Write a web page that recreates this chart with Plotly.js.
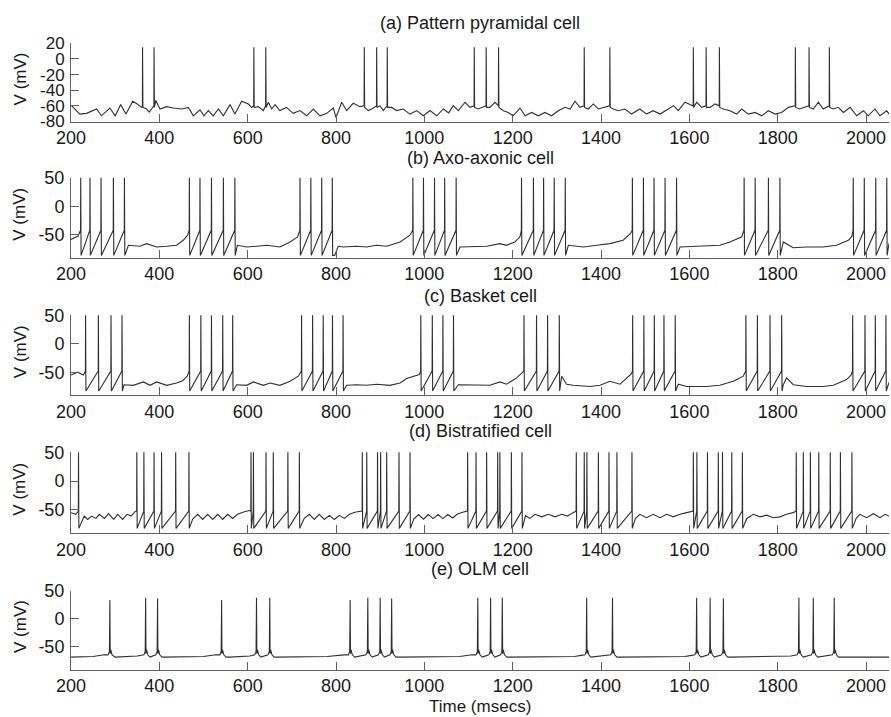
<!DOCTYPE html>
<html><head><meta charset="utf-8">
<script src="https://cdn.plot.ly/plotly-3.0.1.min.js"></script>
<style>html,body{margin:0;padding:0;background:#fff}#chart{width:891px;height:717px}</style>
</head><body><div id="chart"></div>
<script>
// ---------------- DATA ----------------
const xTicks = [200, 400, 600, 800, 1000, 1200, 1400, 1600, 1800, 2000];
const panelTitles = ["(a) Pattern pyramidal cell", "(b) Axo-axonic cell", "(c) Basket cell", "(d) Bistratified cell", "(e) OLM cell"];
const yTitle = "V (mV)";
const xTitle = "Time (msecs)";
const yTicksA = [-80, -60, -40, -20, 0, 20];
const yTicksB = [-50, 0, 50];

// (a) pyramidal
const pyrSpikes = [362, 388, 614, 641, 864, 892, 916, 1113, 1140, 1168, 1362, 1420, 1609, 1638, 1668, 1840, 1871, 1917];
const pyrWaveDt = [-0.4, 0, 0.8];
const pyrWaveV = [-60, 15, -62];
const pyrBaseT = [201.5, 220, 235, 258, 269, 288, 300, 312.5, 324.5, 339.6, 350, 360, 371, 377, 392, 401.5, 416.6, 431.7, 450.6, 465.7, 477, 492, 501, 511, 522, 533.6, 545, 560, 571, 586.4, 601.5, 609, 624, 635.5, 646.8, 654.5, 662, 673, 688, 703, 718.5, 733.6, 748.7, 763.8, 779, 794, 800, 812.8, 824, 839, 854, 873, 880.8, 899.6, 907, 926, 937, 952, 967.5, 982.6, 997.7, 1012.8, 1028, 1043, 1055, 1065.6, 1077, 1092, 1103, 1122, 1130, 1148.6, 1160, 1179, 1190, 1201, 1216.5, 1228, 1243, 1258, 1273, 1288, 1303.3, 1318.4, 1330, 1341, 1352.4, 1371, 1382.6, 1394, 1405, 1428, 1439, 1454, 1469, 1488, 1503, 1518, 1533.5, 1548.6, 1564, 1575, 1590, 1601.4, 1616.5, 1628, 1647, 1658, 1677, 1692, 1707, 1718.5, 1733.5, 1748.6, 1764, 1779, 1794, 1809, 1824, 1850, 1862, 1880.7, 1892, 1903, 1926, 1937, 1949, 1964, 1979, 1994, 2005, 2020, 2031.6, 2046.7, 2052];
const pyrBaseV = [-60, -70.5, -69.6, -64, -72.7, -62.8, -72.7, -58.4, -70.5, -54, -57.6, -62, -64, -68, -53, -64, -61, -62.8, -64, -62, -72.7, -65, -72.7, -66, -72.7, -64, -72.7, -58.4, -70.5, -54, -57.6, -62, -61, -66, -55.4, -64, -58.4, -66, -62, -69.6, -66, -72.7, -64, -72.7, -69.6, -62.8, -75, -55.4, -66, -56.7, -61, -66, -64, -59.7, -66, -62, -66, -64, -70.5, -66, -72.7, -66, -72.7, -64, -69, -59.7, -66.2, -55.4, -61.9, -64, -61.9, -61.9, -55.4, -66.2, -68.4, -72.7, -62.8, -72.7, -68.4, -72.7, -68.4, -72.7, -66.2, -61.9, -64, -54, -61.9, -64, -57.6, -64, -61.9, -64, -66.2, -64, -70.5, -64, -70.5, -66.2, -70.5, -65.3, -59.7, -66.2, -55.4, -58.4, -55.4, -61.9, -61.9, -57.6, -64, -66.2, -70.5, -64, -70.5, -68.4, -72.7, -66.2, -70.5, -68.4, -61.9, -64, -61.9, -64, -55.4, -64, -64, -61.9, -68.4, -61.9, -72.7, -66.2, -72.7, -64, -72.7, -66.2, -70.5];

// (b) axo-axonic
const axoSpikes = [222, 243, 268, 296, 321, 468, 492, 518, 545, 571, 718.5, 743, 767.6, 791.6, 974, 998, 1023, 1046, 1072, 1220, 1247, 1270, 1294, 1319, 1471, 1496, 1520, 1545, 1571, 1724, 1749, 1779, 1805, 1971, 1996, 2022, 2047];
const axoWaveDt = [-0.4, 0, 0.8];
const axoWaveV = [-42, 56, -86];
const axoBaseT = [200, 216, 330, 356, 371, 394, 416.6, 439, 454, 464, 576.6, 597.7, 620, 643, 673, 696, 713, 797, 805, 816.6, 846.8, 869, 892, 914.7, 945, 967.5, 1080.7, 1111, 1141, 1171, 1186, 1205, 1216.5, 1326, 1360, 1390, 1420, 1450, 1467, 1579, 1609, 1639, 1669, 1692, 1718.5, 1812.7, 1824, 1835, 1865.6, 1903, 1933.5, 1960, 1968, 2052];
const axoBaseV = [-58, -52, -68.3, -70, -65.4, -71.3, -70, -68.3, -59.5, -50.6, -68.3, -71.3, -70, -68.3, -71.3, -62.4, -53.5, -86, -70, -71.3, -70, -71.3, -68.3, -70, -62.4, -50.6, -71.3, -71.3, -70, -65.4, -68.3, -62.4, -53.5, -68.3, -71.3, -68.3, -65.4, -59.5, -47.6, -71.3, -70, -68.3, -68.3, -62.4, -53.5, -62.4, -68.3, -72.5, -71.3, -71.3, -68.3, -59.5, -52.4, -65];

// (c) basket
const basSpikes = [233, 262, 290.6, 315.5, 468, 494, 518, 543.5, 566, 722, 747, 771, 792, 816, 992, 1018, 1042, 1066, 1225.6, 1254, 1279, 1305.5, 1471.6, 1497, 1520.6, 1542.5, 1568, 1728, 1754, 1782.6, 1809, 1969.7, 1997.6, 2021, 2045];
const basWaveDt = [-0.4, 0, 0.8];
const basWaveV = [-48, 56, -83];
const basBaseT = [200, 215, 228, 320, 341, 363.8, 379, 394, 416.6, 439, 452.8, 463, 575, 597.7, 612.8, 635.5, 650.6, 673, 696, 714.7, 824, 846.8, 869, 892, 922, 945, 960, 979, 988.6, 1077, 1118.4, 1148.6, 1171, 1186, 1209, 1220, 1311, 1322, 1337, 1375, 1398, 1420, 1443, 1458, 1468.6, 1575, 1594, 1639, 1669, 1699.6, 1722, 1812.7, 1820, 1835.4, 1865.6, 1903, 1926, 1956, 1966, 2052];
const basBaseV = [-55, -50, -55, -72, -73, -67, -73, -67, -73, -69, -65, -57, -72, -73, -67, -73, -69, -73, -66, -57, -73, -72, -73, -71, -73, -69, -61, -57, -54, -72, -73, -73, -67, -71, -60, -53, -57, -71, -73, -75, -73, -66, -71, -61, -53, -71, -75, -75, -73, -66, -57, -72, -60, -72, -75, -75, -73, -63, -55, -68];

// (d) bistratified
const bisSpikes = [217, 349, 365, 388, 405, 437, 467, 607.5, 613, 641.5, 658, 691, 717, 859.5, 869.6, 894, 901, 914.7, 942.6, 967.5, 1098, 1117, 1141, 1166, 1171, 1197, 1221, 1344, 1362, 1368, 1394, 1418, 1436, 1470, 1609, 1617, 1641, 1665.5, 1675, 1696, 1720, 1842, 1858, 1874, 1893, 1919, 1942, 1968];
const bisWaveDt = [-0.4, 0, 0.8];
const bisWaveV = [-52, 56, -82];
const bisBaseT = [200, 211, 230, 237.7, 246.8, 256.6, 264, 275.5, 285, 296.6, 305.7, 317, 326.8, 335.8, 345, 475.5, 486.8, 498, 509.4, 520.8, 532, 543.4, 554.7, 566, 577, 592.5, 604, 728, 739.6, 751, 762, 773.6, 785, 796, 807.5, 819, 830, 845, 856, 976, 987, 998, 1009, 1020, 1031, 1042, 1053, 1064, 1075, 1087, 1095, 1229, 1239, 1250.5, 1265.6, 1280.7, 1296, 1311, 1324, 1337, 1478, 1488, 1503, 1518, 1533.5, 1548.6, 1563.7, 1579, 1594, 1605, 1730, 1745, 1760, 1775, 1790, 1805, 1820, 1835, 1978, 1986, 2001.5, 2016.6, 2031.7, 2043, 2052];
const bisBaseV = [-54.7, -57.6, -60.6, -66.5, -60.6, -64.7, -57.6, -64.7, -56.5, -66.5, -57.6, -66.5, -57.6, -60.6, -53, -66, -57.6, -66.5, -57.6, -66.5, -57.6, -66.5, -57.6, -64.7, -57.6, -53, -51, -64.7, -57.6, -66.5, -57.6, -66.5, -59.4, -66.5, -59.4, -64.7, -57.6, -53.5, -51.8, -66, -58, -66, -58, -65, -58, -65, -58, -64, -57, -54, -52, -60, -64.7, -57.6, -62, -57.6, -62, -57.6, -60.6, -54.7, -64.7, -57.6, -63.5, -57.6, -63.5, -57.6, -62, -57.6, -54.7, -53, -64.7, -57.6, -62, -59, -63.5, -62, -57.6, -54.7, -64, -57.6, -63.5, -56.5, -63.5, -57.6, -60.6];

// (e) OLM
const olmSpikes = [288, 369, 396, 541, 620, 650, 832, 872, 900, 926, 1121, 1150, 1176.5, 1367.5, 1426, 1616.5, 1647, 1677, 1848, 1880.6, 1928];
const olmPeaks = [33, 37, 36, 33, 37, 37, 33, 37, 37, 36, 37, 37, 37, 37, 37, 37, 37, 36, 37, 37, 37];
const olmWaveDt = [-4, -1, 0, 0.8, 2, 5, 10];
const olmWaveV = [-64, -58, null, -62, -55, -64, -68];
const olmBaseT = [200, 250, 275, 300, 350, 410, 500, 528, 560, 605, 665, 780, 818, 945, 1080, 1108, 1195, 1340, 1355, 1445, 1590, 1605, 1695, 1830, 1945, 2052];
const olmBaseV = [-68, -67, -64, -68, -66, -68, -67, -64, -68, -66, -68, -67, -64, -68, -67, -64, -68, -67, -65, -68, -67, -65, -68, -66, -68, -68];

// ---------------- BUILD ----------------
function buildTrace(bt, bv, spikes, wdt, wv, peaks) {
  const pts = [];
  for (let i = 0; i < bt.length; i++) pts.push([bt[i], bv[i]]);
  spikes.forEach((ts, j) => {
    for (let k = 0; k < wdt.length; k++) {
      let v = wv[k];
      if (v === null) v = Array.isArray(peaks) ? peaks[j] : peaks;
      pts.push([ts + wdt[k], v]);
    }
  });
  pts.sort((a, b) => a[0] - b[0]);
  return {x: pts.map(p => p[0]), y: pts.map(p => p[1])};
}

const series = [
  buildTrace(pyrBaseT, pyrBaseV, pyrSpikes, pyrWaveDt, pyrWaveV),
  buildTrace(axoBaseT, axoBaseV, axoSpikes, axoWaveDt, axoWaveV),
  buildTrace(basBaseT, basBaseV, basSpikes, basWaveDt, basWaveV),
  buildTrace(bisBaseT, bisBaseV, bisSpikes, bisWaveDt, bisWaveV),
  buildTrace(olmBaseT, olmBaseV, olmSpikes, olmWaveDt, olmWaveV, olmPeaks)
];

// ---------------- LAYOUT ----------------
const W = 891, H = 717;
const FONT = "Liberation Sans, Arial, Helvetica, sans-serif";
const xDom = [71 / W, 889 / W];
const panelPx = [[43.3, 121.5], [177.7, 257.7], [315.3, 395], [452.3, 533], [590.5, 669.5]];
const yRanges = [[-80, 20], [-90, 50], [-90, 50], [-90, 50], [-90, 50]];
const titleGap = [20, 20, 19, 21, 22];

const data = [];
const layout = {
  width: W, height: H,
  margin: {l: 0, r: 0, t: 0, b: 0},
  paper_bgcolor: "#fff", plot_bgcolor: "#fff",
  showlegend: false,
  font: {family: FONT, size: 18, color: "#1a1a1a"},
  annotations: []
};

series.forEach((s, i) => {
  const n = i + 1;
  const xa = "x" + (n === 1 ? "" : n), ya = "y" + (n === 1 ? "" : n);
  data.push({type: "scatter", mode: "lines", x: s.x, y: s.y, xaxis: xa, yaxis: ya,
    line: {color: "#303030", width: 1.1}, hoverinfo: "skip"});
  const [top, bot] = panelPx[i];
  const yDom = [1 - bot / H, 1 - top / H];
  const axStyle = {
    showline: true, linecolor: "#606060", linewidth: 1,
    ticks: "inside", ticklen: 8, tickcolor: "#606060", tickwidth: 1,
    showgrid: false, zeroline: false, mirror: false,
    tickfont: {family: FONT, size: 18, color: "#1a1a1a"}
  };
  layout["xaxis" + (n === 1 ? "" : n)] = Object.assign({}, axStyle, {
    domain: xDom, range: [200, 2052], anchor: ya,
    tickmode: "array", tickvals: xTicks, ticktext: xTicks.map(String),
    ticklabelstandoff: 0
  });
  layout["yaxis" + (n === 1 ? "" : n)] = Object.assign({}, axStyle, {
    domain: yDom, range: yRanges[i], anchor: xa,
    tickmode: "array", tickvals: i === 0 ? yTicksA : yTicksB,
    ticktext: (i === 0 ? yTicksA : yTicksB).map(String),
    ticklabelstandoff: 2,
    tickfont: {family: FONT, size: i === 0 ? 17 : 18, color: "#1a1a1a"}
  });
  layout.annotations.push({
    xref: "paper", yref: "paper", x: (xDom[0] + xDom[1]) / 2, y: 1 - (top - titleGap[i]) / H,
    xanchor: "center", yanchor: "middle", showarrow: false,
    text: panelTitles[i], font: {family: FONT, size: 18, color: "#1a1a1a"}
  });
  layout.annotations.push({
    xref: "paper", yref: "paper", x: 20 / W, y: 1 - ((top + bot) / 2 - 3) / H,
    xanchor: "center", yanchor: "middle", showarrow: false, textangle: -90,
    text: yTitle, font: {family: FONT, size: 17, color: "#1a1a1a"}
  });
});
layout.annotations.push({
  xref: "paper", yref: "paper", x: (xDom[0] + xDom[1]) / 2, y: 1 - 706 / H,
  xanchor: "center", yanchor: "middle", showarrow: false,
  text: xTitle, font: {family: FONT, size: 17, color: "#1a1a1a"}
});

Plotly.newPlot("chart", data, layout, {staticPlot: true, displayModeBar: false});
</script></body></html>
